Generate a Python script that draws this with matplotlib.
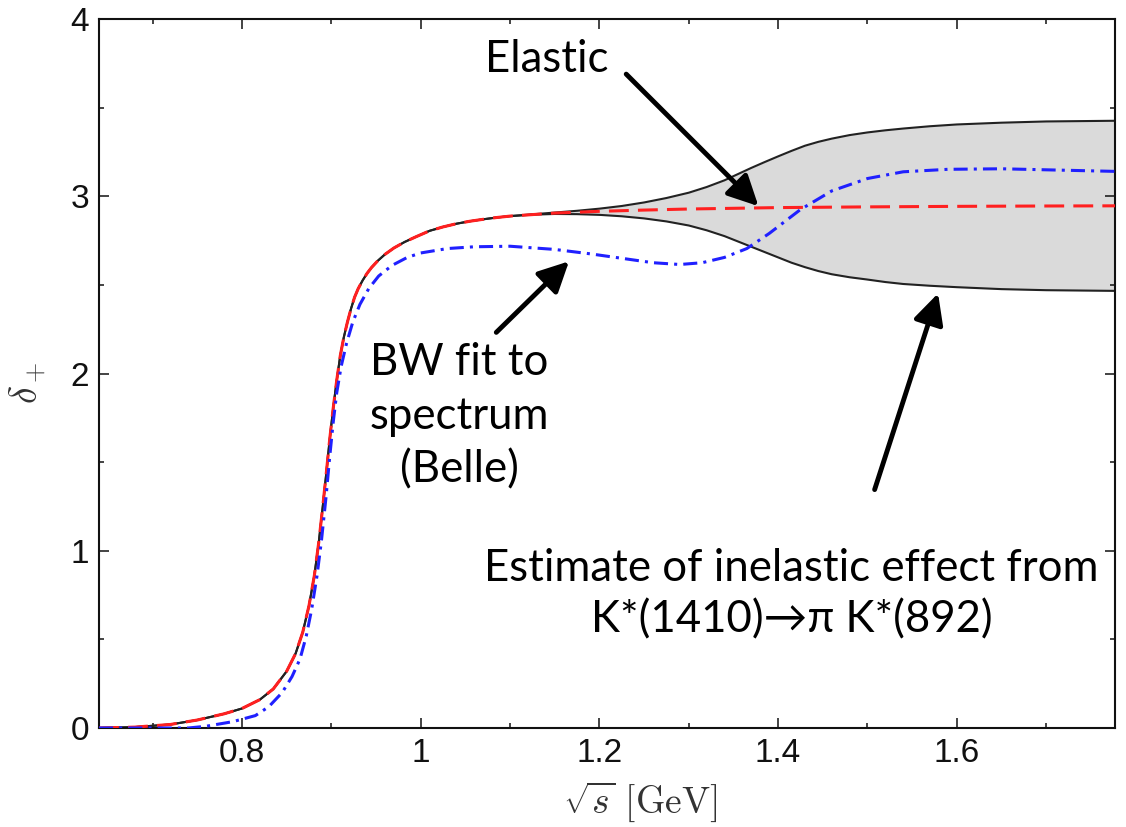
import matplotlib
matplotlib.use("Agg")
import matplotlib.pyplot as plt
from matplotlib.ticker import MultipleLocator, FixedLocator

# ---------------- data ----------------
# common part of the elastic phase and the band (band has zero width below ~1.1 GeV)
low_x = [0.640, 0.680, 0.720, 0.750, 0.780, 0.800, 0.820, 0.835, 0.850, 0.860,
         0.868, 0.875, 0.881, 0.886, 0.890, 0.894, 0.898, 0.902, 0.906, 0.910,
         0.914, 0.918, 0.922, 0.926, 0.930, 0.935, 0.940, 0.945, 0.952, 0.960,
         0.970, 0.982, 0.995, 1.010, 1.025, 1.040, 1.055, 1.070, 1.085, 1.100]
low_y = [0.000, 0.005, 0.020, 0.045, 0.080, 0.110, 0.160, 0.220, 0.320, 0.420,
         0.540, 0.690, 0.860, 1.050, 1.230, 1.420, 1.620, 1.800, 1.960, 2.100,
         2.205, 2.290, 2.365, 2.430, 2.478, 2.525, 2.565, 2.598, 2.636, 2.672,
         2.708, 2.742, 2.772, 2.805, 2.827, 2.845, 2.859, 2.870, 2.880, 2.888]

# above 1.1 GeV
elastic_tail_x = [1.150, 1.200, 1.250, 1.300, 1.350, 1.400, 1.500, 1.600, 1.700, 1.780]
elastic_tail_y = [2.905, 2.915, 2.922, 2.928, 2.932, 2.936, 2.940, 2.943, 2.945, 2.946]

band_tail_x = [1.125, 1.150, 1.175, 1.200, 1.225, 1.250, 1.275, 1.300, 1.320, 1.340,
               1.355, 1.370, 1.385, 1.400, 1.415, 1.430, 1.445, 1.460, 1.480, 1.500,
               1.520, 1.540, 1.570, 1.600, 1.650, 1.700, 1.780]
band_upper_tail = [2.898, 2.908, 2.918, 2.930, 2.945, 2.965, 2.990, 3.020, 3.052, 3.090,
                   3.125, 3.160, 3.193, 3.225, 3.256, 3.285, 3.307, 3.325, 3.345, 3.360,
                   3.372, 3.382, 3.395, 3.405, 3.415, 3.422, 3.426]
band_lower_tail = [2.896, 2.900, 2.899, 2.895, 2.887, 2.875, 2.858, 2.835, 2.808, 2.775,
                   2.745, 2.715, 2.685, 2.655, 2.625, 2.600, 2.578, 2.560, 2.543, 2.530,
                   2.516, 2.505, 2.495, 2.487, 2.476, 2.470, 2.466]

bw_x = [0.640, 0.740, 0.760, 0.790, 0.815, 0.830, 0.845, 0.856, 0.865, 0.872,
        0.878, 0.884, 0.889, 0.894, 0.898, 0.902, 0.906, 0.911, 0.917, 0.924,
        0.932, 0.942, 0.953, 0.968, 0.985, 1.000, 1.030, 1.060, 1.100, 1.150,
        1.190, 1.225, 1.260, 1.290, 1.315, 1.340, 1.365, 1.390, 1.425, 1.460,
        1.500, 1.540, 1.590, 1.650, 1.710, 1.780]
bw_y = [0.000, 0.000, 0.010, 0.036, 0.070, 0.120, 0.200, 0.290, 0.390, 0.520,
        0.670, 0.860, 1.060, 1.300, 1.520, 1.720, 1.890, 2.040, 2.170, 2.290,
        2.390, 2.480, 2.550, 2.610, 2.655, 2.680, 2.705, 2.715, 2.718, 2.700,
        2.675, 2.650, 2.625, 2.615, 2.625, 2.655, 2.705, 2.790, 2.925, 3.030,
        3.100, 3.138, 3.152, 3.155, 3.148, 3.140]

x_ticks = [0.8, 1.0, 1.2, 1.4, 1.6]
x_tick_labels = ["0.8", "1", "1.2", "1.4", "1.6"]
y_ticks = [0, 1, 2, 3, 4]
y_tick_labels = ["0", "1", "2", "3", "4"]

label_elastic = "Elastic"
label_bw = "BW fit to\nspectrum\n(Belle)"
label_inel = "Estimate of inelastic effect from\nK*(1410)\u2192\u03c0 K*(892)"

elastic_x = low_x + elastic_tail_x
elastic_y = low_y + elastic_tail_y
band_x = low_x + band_tail_x
band_upper = low_y + band_upper_tail
band_lower = low_y + band_lower_tail

# ---------------- figure ----------------
plt.rcParams["mathtext.fontset"] = "cm"
fig = plt.figure(figsize=(11.26, 8.27), dpi=100)
ax = fig.add_axes([99 / 1126, 1 - 728 / 827, (1115 - 99) / 1126, (728 - 19) / 827])

ax.fill_between(band_x, band_lower, band_upper, color="#dadada", lw=0, zorder=1)
ax.plot(band_x, band_upper, color="#222222", lw=1.5, zorder=2)
ax.plot(band_x, band_lower, color="#222222", lw=1.5, zorder=2)
ax.plot(elastic_x, elastic_y, color="#ff2020", lw=2.2, dashes=(6.5, 3), zorder=3)
ax.plot(bw_x, bw_y, color="#2020ff", lw=2.2, dashes=(4.6, 2.0, 1.0, 2.0), zorder=4)

ax.set_xlim(0.64, 1.777)
ax.set_ylim(0, 4)

ax.xaxis.set_major_locator(FixedLocator(x_ticks))
ax.set_xticklabels(x_tick_labels)
ax.xaxis.set_minor_locator(MultipleLocator(0.1))
ax.yaxis.set_major_locator(FixedLocator(y_ticks))
ax.set_yticklabels(y_tick_labels)
ax.yaxis.set_minor_locator(MultipleLocator(0.5))

ax.tick_params(which="both", direction="in", top=True, right=True, width=1.1, colors="#111111")
ax.tick_params(which="major", length=7.2, pad=7, labelsize=24)
ax.tick_params(which="minor", length=3.6)
for lab in ax.get_xticklabels() + ax.get_yticklabels():
    lab.set_family(["Liberation Sans", "DejaVu Sans"])
for sp in ax.spines.values():
    sp.set_linewidth(1.5)
    sp.set_color("#111111")

ax.set_xlabel(r"$\sqrt{s}\ [\mathrm{GeV}]$", fontsize=27, color="#333333")
ax.xaxis.set_label_coords(0.5325, -0.072)
ax.set_ylabel(r"$\delta_+$", fontsize=27, color="#333333")
ax.yaxis.set_label_coords(-0.05, 0.487)

ann_font = ["Lato", "DejaVu Sans"]
arrow_kw = dict(arrowstyle="-|>", color="black", lw=3.5, mutation_scale=46,
                shrinkA=0, shrinkB=0)

ax.annotate("", xy=(1.378, 2.944), xytext=(1.230, 3.689), arrowprops=arrow_kw, zorder=6)
ax.annotate("", xy=(1.166, 2.633), xytext=(1.0846, 2.232), arrowprops=arrow_kw, zorder=6)
ax.annotate("", xy=(1.579, 2.452), xytext=(1.508, 1.345), arrowprops=arrow_kw, zorder=6)

ax.text(1.1406, 3.774, label_elastic, ha="center", va="center", fontsize=31.5,
        family=ann_font, zorder=7)
ax.text(1.043, 1.757, label_bw, ha="center", va="center", multialignment="center",
        fontsize=31.5, linespacing=1.38, family=ann_font, zorder=7)
ax.text(1.415, 0.754, label_inel, ha="center", va="center", multialignment="center",
        fontsize=31.5, linespacing=1.3, family=ann_font, zorder=7)

fig.savefig("out.png", dpi=100)
